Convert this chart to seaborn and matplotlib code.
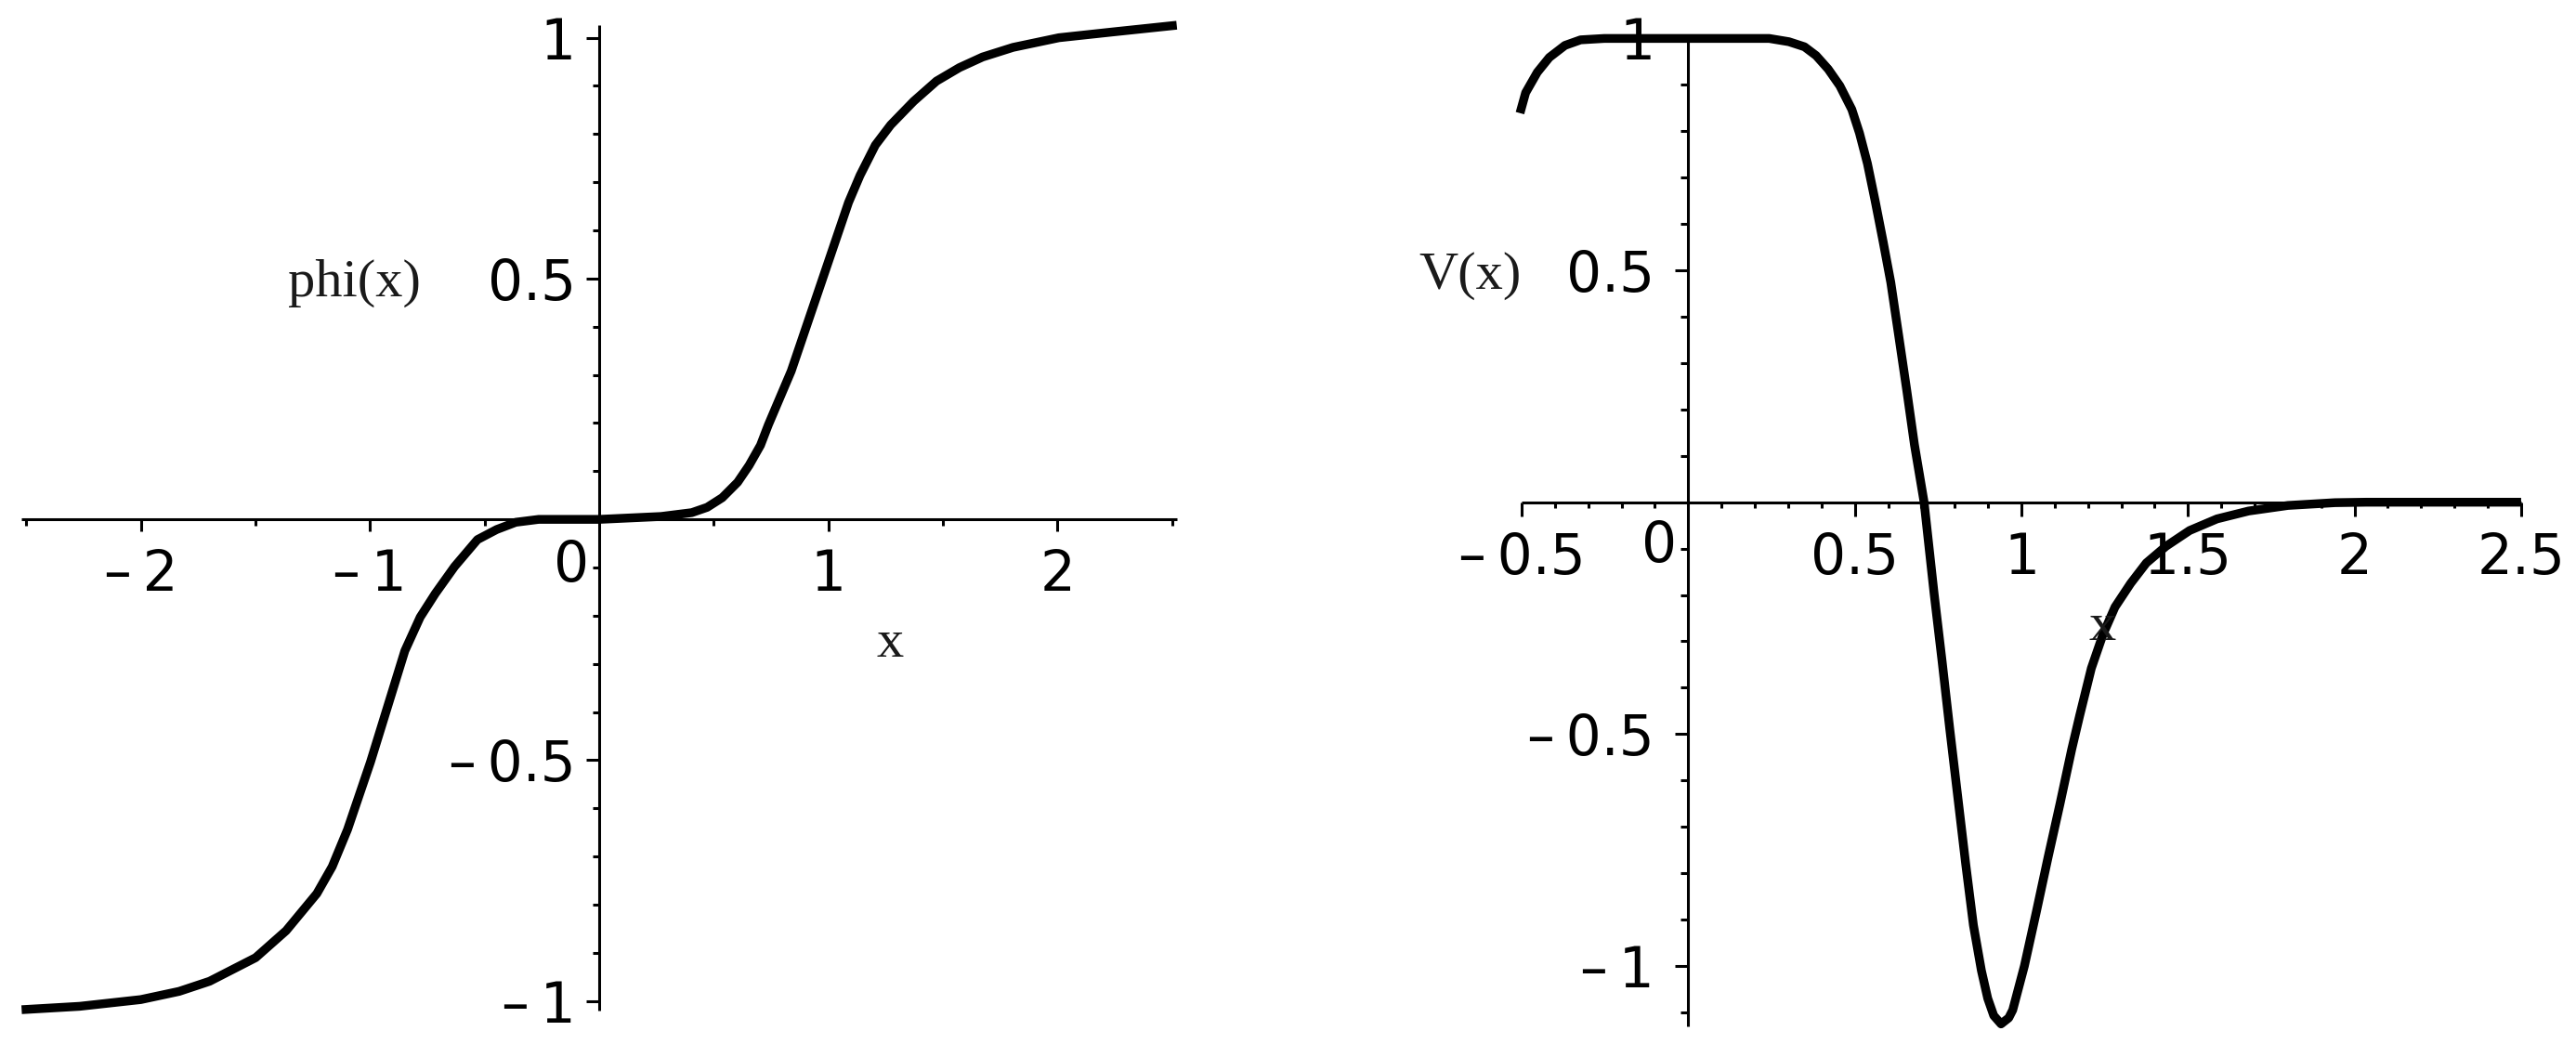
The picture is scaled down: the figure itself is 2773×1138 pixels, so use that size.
import numpy as np
import pandas as pd
import matplotlib
matplotlib.use("Agg")
import matplotlib.pyplot as plt
import seaborn as sns
from matplotlib.ticker import FixedLocator, FixedFormatter
import matplotlib.transforms as mtransforms

# ---------------- data ----------------
phi_x = [-2.52, -2.267, -2.0, -1.833, -1.70, -1.499, -1.366, -1.232, -1.165, -1.098,
         -1.048, -0.998, -0.948, -0.898, -0.848, -0.781, -0.715, -0.631, -0.531, -0.447,
         -0.364, -0.264, 0.0, 0.270, 0.404, 0.471, 0.537, 0.604, 0.654, 0.704, 0.738,
         0.788, 0.838, 0.888, 0.938, 0.988, 1.038, 1.088, 1.138, 1.205, 1.272, 1.372,
         1.472, 1.572, 1.673, 1.806, 2.006, 2.240, 2.52]
phi_y = [-1.018, -1.011, -0.997, -0.980, -0.959, -0.910, -0.854, -0.777, -0.721, -0.644,
         -0.574, -0.504, -0.427, -0.350, -0.273, -0.203, -0.154, -0.098, -0.042, -0.021,
         -0.006, 0.0, 0.0, 0.006, 0.014, 0.025, 0.045, 0.077, 0.112, 0.154, 0.196,
         0.252, 0.308, 0.378, 0.448, 0.518, 0.588, 0.658, 0.714, 0.777, 0.819, 0.868,
         0.910, 0.938, 0.960, 0.980, 1.0, 1.012, 1.026]

v_x = [-0.505, -0.488, -0.453, -0.417, -0.370, -0.323, -0.252, -0.158, 0.0, 0.243,
       0.302, 0.349, 0.384, 0.420, 0.455, 0.491, 0.514, 0.538, 0.561, 0.585, 0.608,
       0.632, 0.656, 0.679, 0.708, 0.738, 0.762, 0.785, 0.809, 0.833, 0.856, 0.880,
       0.899, 0.917, 0.939, 0.962, 0.974, 1.009, 1.045, 1.080, 1.116, 1.151, 1.175,
       1.210, 1.245, 1.281, 1.328, 1.375, 1.434, 1.505, 1.587, 1.682, 1.800, 1.941,
       2.035, 2.5]
v_y = [0.839, 0.883, 0.927, 0.959, 0.985, 0.997, 1.0, 1.0, 1.0, 1.0,
       0.993, 0.982, 0.963, 0.934, 0.898, 0.847, 0.796, 0.730, 0.650, 0.562, 0.474,
       0.358, 0.241, 0.124, 0.0, -0.197, -0.343, -0.489, -0.635, -0.781, -0.912, -1.010,
       -1.070, -1.107, -1.125, -1.112, -1.095, -1.000, -0.883, -0.766, -0.650, -0.533, -0.460,
       -0.358, -0.285, -0.226, -0.175, -0.131, -0.095, -0.061, -0.036, -0.019, -0.007, -0.001,
       0.0, 0.0]

MINUS = "\u2013\u2009"
left_xmajor = [-2, -1, 1, 2]
left_xlabels = [MINUS + "2", MINUS + "1", "1", "2"]
left_xminor = [-2.5, -1.5, -0.5, 0.5, 1.5, 2.5]
left_ymajor = [-1, -0.5, 0.5, 1]
left_ylabels = [MINUS + "1", MINUS + "0.5", "0.5", "1"]

right_xmajor = [-0.5, 0.5, 1, 1.5, 2, 2.5]
right_xlabels = [MINUS + "0.5", "0.5", "1", "1.5", "2", "2.5"]
right_ymajor = [-1, -0.5, 0.5, 1]
right_ylabels = [MINUS + "1", MINUS + "0.5", "0.5", "1"]

phi_df = pd.DataFrame({"x": phi_x, "phi": phi_y})
v_df = pd.DataFrame({"x": v_x, "V": v_y})

# ---------------- style ----------------
sns.set_theme(style="white")
plt.rcParams["font.family"] = ["DejaVu Sans"]
plt.rcParams["text.color"] = "black"
plt.rcParams["xtick.color"] = "black"
plt.rcParams["ytick.color"] = "black"
plt.rcParams["xtick.labelcolor"] = "black"
plt.rcParams["ytick.labelcolor"] = "black"

DPI = 100
fig = plt.figure(figsize=(27.73, 11.38), dpi=DPI)
fig.patch.set_facecolor("white")

ax1 = fig.add_axes([0.0084, 0.04385, 0.4484, 0.9323])
ax2 = fig.add_axes([0.5907, 0.02909, 0.3880, 0.93453])

CURVE_LW = 6.8
AX_LW = 2.2
TICK_FS = 43
SERIF = ["Liberation Serif", "DejaVu Serif"]
LABEL_FS = 42


def setup_axes(ax, xlim, ylim, xmaj, xlabels, xmin, ymaj, ylabels, ymin,
               xmaj_len, xmin_len, ymaj_len, ymin_len, xpad, ypad):
    ax.set_facecolor("white")
    ax.set_xlim(*xlim)
    ax.set_ylim(*ylim)
    for s in ["top", "right"]:
        ax.spines[s].set_visible(False)
    ax.spines["left"].set_position(("data", 0))
    ax.spines["bottom"].set_position(("data", 0))
    for s in ["left", "bottom"]:
        ax.spines[s].set_linewidth(AX_LW)
        ax.spines[s].set_color("black")
        ax.spines[s].set_capstyle("butt")
    ax.xaxis.set_major_locator(FixedLocator(xmaj))
    ax.xaxis.set_major_formatter(FixedFormatter(xlabels))
    ax.xaxis.set_minor_locator(FixedLocator(xmin))
    ax.yaxis.set_major_locator(FixedLocator(ymaj))
    ax.yaxis.set_major_formatter(FixedFormatter(ylabels))
    ax.yaxis.set_minor_locator(FixedLocator(ymin))
    ax.tick_params(axis="x", which="major", direction="out", length=xmaj_len, width=AX_LW,
                   color="black", labelcolor="black", labelsize=TICK_FS, pad=xpad, bottom=True)
    ax.tick_params(axis="x", which="minor", direction="out", length=xmin_len, width=AX_LW,
                   color="black", bottom=True)
    ax.tick_params(axis="y", which="major", direction="out", length=ymaj_len, width=AX_LW,
                   color="black", labelcolor="black", labelsize=TICK_FS, pad=ypad, left=True)
    ax.tick_params(axis="y", which="minor", direction="out", length=ymin_len, width=AX_LW,
                   color="black", left=True)
    ax.set_xlabel("")
    ax.set_ylabel("")
    ax.grid(False)


# ---------------- left: phi(x) ----------------
sns.lineplot(data=phi_df, x="x", y="phi", ax=ax1, color="black", linewidth=CURVE_LW,
             clip_on=False, solid_capstyle="butt", solid_joinstyle="round")
y_minor_left = [v / 10 for v in range(-10, 11) if v % 5 != 0]
setup_axes(ax1, (-2.52, 2.52), (-1.02, 1.026), left_xmajor, left_xlabels, left_xminor,
           left_ymajor, left_ylabels, y_minor_left, 9.4, 5.0, 10.0, 5.0, 13.0, 8.0)

# ---------------- right: V(x) ----------------
sns.lineplot(data=v_df, x="x", y="V", ax=ax2, color="black", linewidth=CURVE_LW,
             clip_on=False, solid_capstyle="butt", solid_joinstyle="round")
x_minor_right = [v / 10 for v in range(-5, 26) if v % 5 != 0]
y_minor_right = [v / 10 for v in range(-11, 11) if v % 5 != 0]
setup_axes(ax2, (-0.5, 2.5), (-1.13, 1.0), right_xmajor, right_xlabels, x_minor_right,
           right_ymajor, right_ylabels, y_minor_right, 10.8, 4.3, 10.0, 5.8, 11.5, 16.0)

# ---------------- origin labels "0" ----------------
for ax, dx, dy in [(ax1, -30, -50), (ax2, -31, -48)]:
    off = mtransforms.offset_copy(ax.transData, fig=fig, x=dx, y=dy, units="dots")
    ax.text(0, 0, "0", transform=off, ha="center", va="center", fontsize=TICK_FS,
            color="black", clip_on=False)

# ---------------- axis names (serif, placed like the original) ----------------
ax1.text(-1.07, 0.49, "phi(x)", ha="center", va="center", fontsize=LABEL_FS,
         family=SERIF, color="#1a1a1a", clip_on=False)
ax1.text(1.27, -0.258, "x", ha="center", va="center", fontsize=LABEL_FS,
         family=SERIF, color="#1a1a1a", clip_on=False)
ax2.text(-0.655, 0.488, "V(x)", ha="center", va="center", fontsize=LABEL_FS,
         family=SERIF, color="#1a1a1a", clip_on=False)
ax2.text(1.242, -0.269, "x", ha="center", va="center", fontsize=LABEL_FS,
         family=SERIF, color="#1a1a1a", clip_on=False)

fig.savefig("out.png", dpi=DPI, facecolor="white")
